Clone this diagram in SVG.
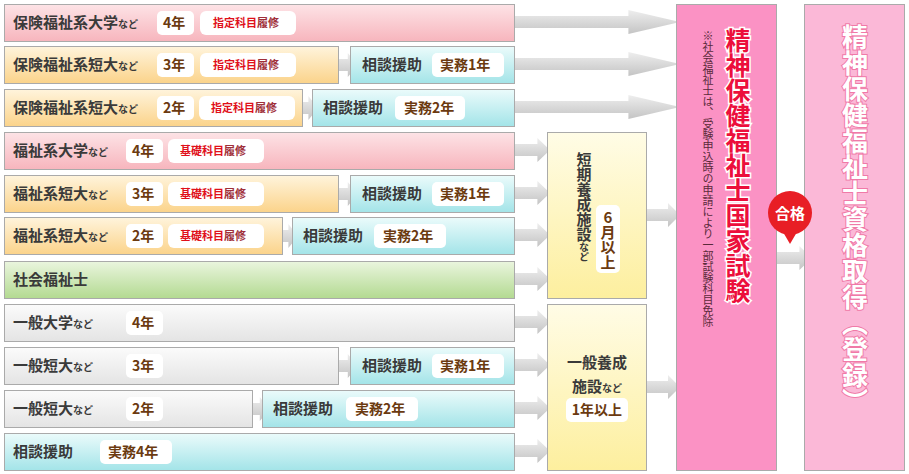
<svg xmlns="http://www.w3.org/2000/svg" width="909" height="474" viewBox="0 0 909 474">
<defs>
<linearGradient id="gPink" x1="0" y1="0" x2="0" y2="1"><stop offset="0" stop-color="#fde3e6"/><stop offset="1" stop-color="#f7b5bd"/></linearGradient>
<linearGradient id="gOr" x1="0" y1="0" x2="0" y2="1"><stop offset="0" stop-color="#fff4dc"/><stop offset="1" stop-color="#fbd38a"/></linearGradient>
<linearGradient id="gTeal" x1="0" y1="0" x2="0" y2="1"><stop offset="0" stop-color="#ebfbfb"/><stop offset="1" stop-color="#a3e4e8"/></linearGradient>
<linearGradient id="gGreen" x1="0" y1="0" x2="0" y2="1"><stop offset="0" stop-color="#eaf5de"/><stop offset="1" stop-color="#b3da91"/></linearGradient>
<linearGradient id="gGray" x1="0" y1="0" x2="0" y2="1"><stop offset="0" stop-color="#fbfbfb"/><stop offset="1" stop-color="#e4e4e4"/></linearGradient>
<linearGradient id="gYel" x1="0" y1="0" x2="0" y2="1"><stop offset="0" stop-color="#fffce6"/><stop offset="1" stop-color="#fdef9e"/></linearGradient>
<linearGradient id="gArr" x1="0" y1="0" x2="0" y2="1"><stop offset="0" stop-color="#eeeeee"/><stop offset="1" stop-color="#c4c4c4"/></linearGradient>
<symbol id="arr" viewBox="0 0 40 24" preserveAspectRatio="none"><polygon points="0,6 28,6 28,0 40,12 28,24 28,18 0,18" fill="url(#gArr)"/></symbol>
</defs>
<style>
.b{stroke:#aaaaaa;stroke-width:1}
.t{font-family:"Noto Sans CJK JP",sans-serif;font-weight:bold;font-size:15px;fill:#3a3a3a}
.s{font-size:10px}
.bd{fill:#fff}
.y{font-family:"Noto Sans CJK JP",sans-serif;font-weight:bold;font-size:14px;fill:#6b3a10}
.r{font-family:"Noto Sans CJK JP",sans-serif;font-weight:bold;font-size:11px;fill:#e0101a}
.r2{fill:#a0303a}
.v{writing-mode:vertical-rl;text-orientation:upright}
</style>
<g id="connectors">
<use href="#arr" x="508" y="10" width="172" height="24"/>
<use href="#arr" x="508" y="52" width="172" height="24"/>
<use href="#arr" x="508" y="95" width="172" height="24"/>
<use href="#arr" x="508" y="138" width="42" height="24"/>
<use href="#arr" x="508" y="181" width="42" height="24"/>
<use href="#arr" x="508" y="223" width="42" height="24"/>
<use href="#arr" x="508" y="267" width="42" height="24"/>
<use href="#arr" x="508" y="310" width="42" height="24"/>
<use href="#arr" x="508" y="353" width="42" height="24"/>
<use href="#arr" x="508" y="396" width="42" height="24"/>
<use href="#arr" x="508" y="439" width="42" height="24"/>
<use href="#arr" x="640" y="203" width="40" height="24"/>
<use href="#arr" x="640" y="375" width="40" height="24"/>
<use href="#arr" x="770" y="246" width="42" height="24"/>
<use href="#arr" x="324" y="53" width="34" height="24"/>
<use href="#arr" x="286" y="96" width="32" height="24"/>
<use href="#arr" x="324" y="182" width="34" height="24"/>
<use href="#arr" x="266" y="224" width="32" height="24"/>
<use href="#arr" x="324" y="354" width="34" height="24"/>
<use href="#arr" x="236" y="397" width="34" height="24"/>
</g>
<g id="row1"><rect class="b" x="4.5" y="4.5" width="510" height="37" fill="url(#gPink)"/><text class="t" x="13" y="28">保険福祉系大学<tspan class="s">など</tspan></text><rect class="bd" x="157" y="11" width="37" height="24" rx="5"/><text class="y" x="163" y="28">4年</text><rect class="bd" x="200" y="11" width="96" height="24" rx="6"/><text class="r" x="213" y="27">指定科目<tspan class="r2">履修</tspan></text></g>
<g id="row2"><rect class="b" x="4.5" y="46.5" width="334" height="37" fill="url(#gOr)"/><text class="t" x="13" y="70">保険福祉系短大<tspan class="s">など</tspan></text><rect class="bd" x="157" y="53" width="37" height="24" rx="5"/><text class="y" x="163" y="70">3年</text><rect class="bd" x="200" y="53" width="96" height="24" rx="6"/><text class="r" x="213" y="69">指定科目<tspan class="r2">履修</tspan></text></g>
<g id="row2b"><rect class="b" x="350.5" y="46.5" width="164" height="37" fill="url(#gTeal)"/><text class="t" x="362" y="70">相談援助</text><rect class="bd" x="432" y="53" width="72" height="24" rx="5"/><text class="y" x="440" y="70">実務1年</text></g>
<g id="row3"><rect class="b" x="4.5" y="89.5" width="298" height="37" fill="url(#gOr)"/><text class="t" x="13" y="113">保険福祉系短大<tspan class="s">など</tspan></text><rect class="bd" x="157" y="96" width="37" height="24" rx="5"/><text class="y" x="163" y="113">2年</text><rect class="bd" x="199" y="96" width="96" height="24" rx="6"/><text class="r" x="211" y="112">指定科目<tspan class="r2">履修</tspan></text></g>
<g id="row3b"><rect class="b" x="312.5" y="89.5" width="202" height="37" fill="url(#gTeal)"/><text class="t" x="323" y="113">相談援助</text><rect class="bd" x="395" y="96" width="70" height="24" rx="5"/><text class="y" x="404" y="113">実務2年</text></g>
<g id="row4"><rect class="b" x="4.5" y="132.5" width="510" height="37" fill="url(#gPink)"/><text class="t" x="13" y="156">福祉系大学<tspan class="s">など</tspan></text><rect class="bd" x="126" y="139" width="37" height="24" rx="5"/><text class="y" x="132" y="156">4年</text><rect class="bd" x="168" y="139" width="96" height="24" rx="6"/><text class="r" x="180" y="155">基礎科目<tspan class="r2">履修</tspan></text></g>
<g id="row5"><rect class="b" x="4.5" y="175.5" width="334" height="37" fill="url(#gOr)"/><text class="t" x="13" y="199">福祉系短大<tspan class="s">など</tspan></text><rect class="bd" x="126" y="182" width="37" height="24" rx="5"/><text class="y" x="132" y="199">3年</text><rect class="bd" x="168" y="182" width="96" height="24" rx="6"/><text class="r" x="180" y="198">基礎科目<tspan class="r2">履修</tspan></text></g>
<g id="row5b"><rect class="b" x="350.5" y="175.5" width="164" height="37" fill="url(#gTeal)"/><text class="t" x="362" y="199">相談援助</text><rect class="bd" x="432" y="182" width="72" height="24" rx="5"/><text class="y" x="440" y="199">実務1年</text></g>
<g id="row6"><rect class="b" x="4.5" y="217.5" width="278" height="37" fill="url(#gOr)"/><text class="t" x="13" y="241">福祉系短大<tspan class="s">など</tspan></text><rect class="bd" x="126" y="224" width="37" height="24" rx="5"/><text class="y" x="132" y="241">2年</text><rect class="bd" x="168" y="224" width="96" height="24" rx="6"/><text class="r" x="180" y="240">基礎科目<tspan class="r2">履修</tspan></text></g>
<g id="row6b"><rect class="b" x="292.5" y="217.5" width="222" height="37" fill="url(#gTeal)"/><text class="t" x="303" y="241">相談援助</text><rect class="bd" x="374" y="224" width="72" height="24" rx="5"/><text class="y" x="383" y="241">実務2年</text></g>
<g id="row7"><rect class="b" x="4.5" y="261.5" width="510" height="37" fill="url(#gGreen)"/><text class="t" x="13" y="285">社会福祉士</text></g>
<g id="row8"><rect class="b" x="4.5" y="304.5" width="510" height="37" fill="url(#gGray)"/><text class="t" x="13" y="328">一般大学<tspan class="s">など</tspan></text><rect class="bd" x="126" y="311" width="37" height="24" rx="5"/><text class="y" x="132" y="328">4年</text></g>
<g id="row9"><rect class="b" x="4.5" y="347.5" width="334" height="37" fill="url(#gGray)"/><text class="t" x="13" y="371">一般短大<tspan class="s">など</tspan></text><rect class="bd" x="126" y="354" width="37" height="24" rx="5"/><text class="y" x="132" y="371">3年</text></g>
<g id="row9b"><rect class="b" x="350.5" y="347.5" width="164" height="37" fill="url(#gTeal)"/><text class="t" x="362" y="371">相談援助</text><rect class="bd" x="432" y="354" width="72" height="24" rx="5"/><text class="y" x="440" y="371">実務1年</text></g>
<g id="row10"><rect class="b" x="4.5" y="390.5" width="248" height="37" fill="url(#gGray)"/><text class="t" x="13" y="414">一般短大<tspan class="s">など</tspan></text><rect class="bd" x="126" y="397" width="37" height="24" rx="5"/><text class="y" x="132" y="414">2年</text></g>
<g id="row10b"><rect class="b" x="262.5" y="390.5" width="252" height="37" fill="url(#gTeal)"/><text class="t" x="273" y="414">相談援助</text><rect class="bd" x="346" y="397" width="72" height="24" rx="5"/><text class="y" x="355" y="414">実務2年</text></g>
<g id="row11"><rect class="b" x="4.5" y="433.5" width="510" height="37" fill="url(#gTeal)"/><text class="t" x="13" y="457">相談援助</text><rect class="bd" x="100" y="440" width="72" height="24" rx="5"/><text class="y" x="108" y="457">実務4年</text></g>
<g id="shortFacility"><rect class="b" x="547.5" y="132.5" width="99" height="166" fill="url(#gYel)"/><text class="t v" x="584" y="152">短期養成施設<tspan class="s">など</tspan></text><rect class="bd" x="596" y="205" width="24" height="68" rx="5"/><text class="y v" x="608" y="210" style="font-size:15px">6月以上</text></g>
<g id="generalFacility"><rect class="b" x="547.5" y="304.5" width="99" height="166" fill="url(#gYel)"/><text class="t" x="597" y="368" text-anchor="middle">一般養成</text><text class="t" x="597" y="392" text-anchor="middle">施設<tspan class="s">など</tspan></text><rect class="bd" x="566" y="398" width="62" height="24" rx="5"/><text class="y" x="597" y="415" text-anchor="middle">1年以上</text></g>
<g id="exam"><rect class="b" x="676.5" y="4.5" width="100" height="466" fill="#fb92c4"/><text class="v" x="738" y="28" style="font-family:'Noto Sans CJK JP',sans-serif;font-weight:bold;font-size:25px;fill:#ec0f3c;stroke:#fff;stroke-width:3;paint-order:stroke">精神保健福祉士国家試験</text><text class="v" x="708" y="30" style="font-family:'Noto Sans CJK JP',sans-serif;font-size:11px;fill:#5a2a3a">※社会福祉士は、受験申込時の申請により一部試験科目免除</text></g>
<g id="result"><rect class="b" x="804.5" y="4.5" width="100" height="466" fill="#fbb8d7"/><text class="v" x="855" y="24" style="font-family:'Noto Sans CJK JP',sans-serif;font-weight:bold;font-size:26px;fill:#fff;stroke:#f07aa8;stroke-width:2;paint-order:stroke">精神保健福祉士資格取得（登録）</text></g>
<g id="pass"><circle cx="790" cy="213" r="22" fill="#e81e25"/><path d="M783,232 L790,244 L797,232 Z" fill="#e81e25"/><text x="790" y="219" text-anchor="middle" style="font-family:'Noto Sans CJK JP',sans-serif;font-weight:bold;font-size:15px;fill:#fff">合格</text></g>
</svg>
